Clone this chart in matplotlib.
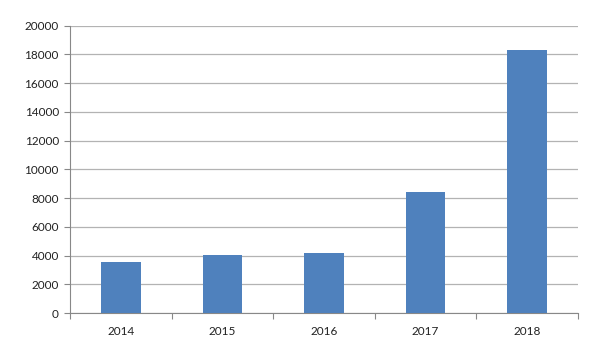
import numpy as np
import matplotlib.pyplot as plt

plt.rcParams['font.family'] = ['Lato', 'DejaVu Sans']

years = ['2014', '2015', '2016', '2017', '2018']
values = [3550, 4060, 4175, 8440, 18280]

fig = plt.figure(figsize=(5.98, 3.53), dpi=100)
ax = fig.add_axes([0.117, 0.1133, 0.8496, 0.8139])

x = np.arange(len(years))
ax.bar(x, values, width=0.39, color='#4f81bd', zorder=3)

ax.set_xlim(-0.5, len(years) - 0.5)
ax.set_ylim(0, 20000)
ax.set_yticks(np.arange(0, 20001, 2000))
ax.yaxis.grid(True, color='#b3b3b3', linewidth=0.9, zorder=0)

ax.set_xticks(x)
ax.set_xticklabels(years)
ax.set_xticks(np.arange(-0.5, len(years), 1), minor=True)
ax.tick_params(axis='x', which='major', length=0, pad=9, labelsize=8.5, colors='#222222')
ax.tick_params(axis='x', which='minor', length=4, color='#888888', width=0.8)
ax.tick_params(axis='y', length=4, color='#888888', width=0.8, pad=4, labelsize=8.5, colors='#222222')
ax.tick_params(axis='y', color='#888888')

for s in ['top', 'right']:
    ax.spines[s].set_visible(False)
for s in ['left', 'bottom']:
    ax.spines[s].set_color('#888888')
    ax.spines[s].set_linewidth(0.8)

plt.savefig('out.png', dpi=100)
